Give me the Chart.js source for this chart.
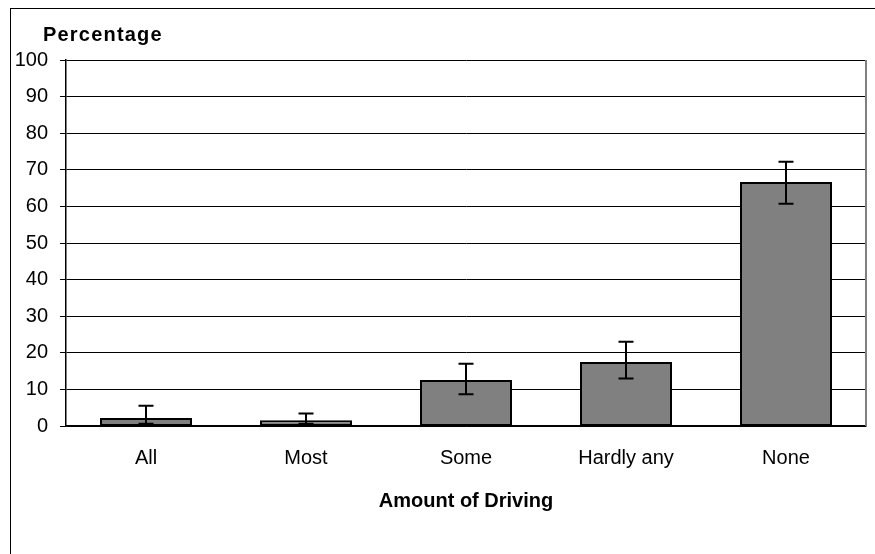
<!DOCTYPE html>
<html>
<head>
<meta charset="utf-8">
<script src="https://cdn.jsdelivr.net/npm/chart.js@4.4.0/dist/chart.umd.min.js"></script>
<style>
  html, body { margin: 0; padding: 0; background: #fff; }
  #wrap { position: relative; width: 875px; height: 554px; }
  #frame { position: absolute; left: 10px; top: 8px; right: -2px; bottom: -2px; border-left: 1px solid #000; border-top: 1px solid #000; pointer-events: none; }
</style>
</head>
<body>
<div id="wrap">
  <canvas id="myChart" width="875" height="554"></canvas>
  <div id="frame"></div>
</div>
<script>
const categorias = ["All", "Most", "Some", "Hardly any", "None"];
const valores = [2.2, 1.6, 12.6, 17.5, 66.7];
const erroAlto = [5.5, 3.4, 17.0, 23.0, 72.2];
const erroBaixo = [0.6, 0.6, 8.7, 13.0, 60.7];
const yTicks = [0, 10, 20, 30, 40, 50, 60, 70, 80, 90, 100];

const fonte = "'Liberation Sans', Arial, sans-serif";

// barras de erro + rotulo "Percentage" + borda cinza direita
const extras = {
    id: 'extras',
    afterDatasetsDraw(chart) {
        const ctx = chart.ctx;
        const meta = chart.getDatasetMeta(0);
        const y = chart.scales.y;
        ctx.save();
        ctx.strokeStyle = '#000';
        ctx.lineWidth = 2;
        meta.data.forEach((bar, i) => {
            const x = bar.x;
            const yt = y.getPixelForValue(erroAlto[i]);
            const yb = y.getPixelForValue(erroBaixo[i]);
            ctx.beginPath();
            ctx.moveTo(x, yt); ctx.lineTo(x, yb);
            ctx.moveTo(x - 7.5, yt); ctx.lineTo(x + 7.5, yt);
            ctx.moveTo(x - 7.5, yb); ctx.lineTo(x + 7.5, yb);
            ctx.stroke();
        });
        const a = chart.chartArea;
        ctx.strokeStyle = '#808080';
        ctx.lineWidth = 2;
        ctx.beginPath();
        ctx.moveTo(a.right, a.top); ctx.lineTo(a.right, a.bottom);
        ctx.stroke();
        ctx.fillStyle = '#000';
        ctx.font = "bold 20px " + fonte;
        ctx.letterSpacing = '1.2px';
        ctx.textAlign = 'left';
        ctx.textBaseline = 'alphabetic';
        ctx.fillText('Percentage', 43, 41);
        ctx.restore();
    }
};

new Chart("myChart", {
    type: "bar",
    data: {
        labels: categorias,
        datasets: [{
            data: valores,
            backgroundColor: '#808080',
            borderColor: '#000',
            borderWidth: 2,
            borderSkipped: false,
            categoryPercentage: 1,
            barPercentage: 0.575
        }]
    },
    options: {
        responsive: false,
        animation: false,
        events: [],
        layout: { padding: { left: 10, top: 60, right: 9, bottom: 0 } },
        plugins: {
            legend: { display: false },
            tooltip: { enabled: false }
        },
        scales: {
            x: {
                grid: { display: false, drawTicks: false },
                border: { color: '#000', width: 1.5 },
                ticks: { color: '#000', padding: 20, font: { family: fonte, size: 20 } },
                title: {
                    display: true,
                    text: 'Amount of Driving',
                    color: '#000',
                    font: { family: fonte, size: 20, weight: 'bold' },
                    padding: { top: 0, bottom: 41 }
                },
                afterFit: s => { s.height = 128; }
            },
            y: {
                min: 0,
                max: 100,
                afterBuildTicks: s => { s.ticks = yTicks.map(v => ({ value: v })); },
                grid: { color: '#000', lineWidth: 1, tickLength: 6, tickColor: '#000' },
                border: { color: '#000', width: 1.5 },
                ticks: { color: '#000', padding: 12, font: { family: fonte, size: 20 } },
                afterFit: s => { s.width = 56; }
            }
        }
    },
    plugins: [extras]
});
</script>
</body>
</html>
